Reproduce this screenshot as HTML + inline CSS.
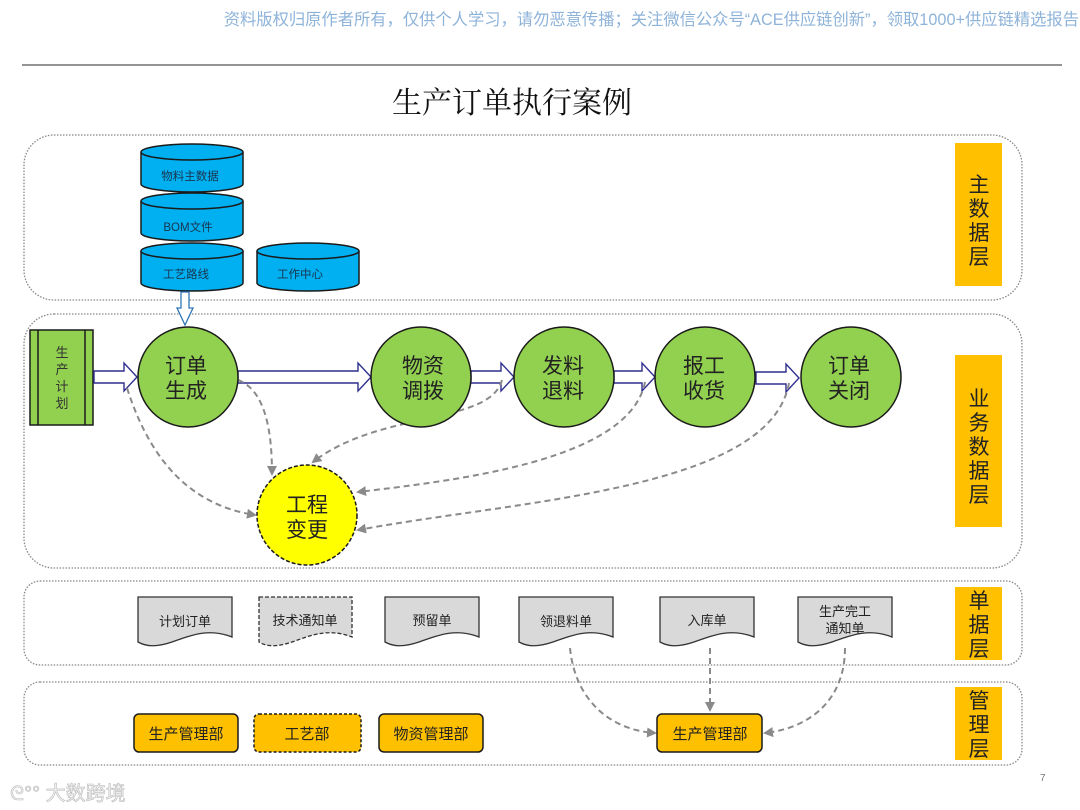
<!DOCTYPE html>
<html><head><meta charset="utf-8"><style>
html,body{margin:0;padding:0;background:#fff;}
svg{display:block;}
text{font-family:"Liberation Sans","Noto Sans CJK SC",sans-serif;}
.s{font-family:"Liberation Serif","Noto Serif CJK SC","Noto Sans CJK SC",serif;}
</style></head><body>
<svg width="1080" height="810" viewBox="0 0 1080 810" xmlns="http://www.w3.org/2000/svg">
<defs>
<marker id="ga" markerWidth="10" markerHeight="10" refX="8" refY="5" orient="auto" markerUnits="userSpaceOnUse">
<path d="M0,0 L10,5 L0,10 z" fill="#8a8a8a"/></marker>
</defs>
<text x="1079" y="25" text-anchor="end" font-size="16.3" fill="#8eb3d9">资料版权归原作者所有，仅供个人学习，请勿恶意传播；关注微信公众号“ACE供应链创新”，领取1000+供应链精选报告</text>
<line x1="22" y1="65" x2="1062" y2="65" stroke="#555" stroke-width="1.2"/>
<text x="512" y="113" text-anchor="middle" font-size="30" fill="#111" class="s">生产订单执行案例</text>

<g fill="none" stroke="#888" stroke-width="1.3" stroke-dasharray="1.5 1.5">
<rect x="24" y="135" width="998" height="165" rx="30"/>
<rect x="24" y="314" width="998" height="254" rx="30"/>
<rect x="24" y="581" width="998" height="84" rx="16"/>
<rect x="24" y="682" width="998" height="83" rx="16"/>
</g>

<g fill="#ffc000">
<rect x="955" y="143" width="47" height="143"/>
<rect x="955" y="355" width="47" height="172"/>
<rect x="955" y="587" width="47" height="73"/>
<rect x="955" y="687" width="47" height="73"/>
</g>
<g font-size="21" fill="#222" text-anchor="middle" class="s">
<text x="979" y="192">主</text><text x="979" y="216">数</text><text x="979" y="240">据</text><text x="979" y="264">层</text>
<text x="979" y="406">业</text><text x="979" y="430">务</text><text x="979" y="454">数</text><text x="979" y="478">据</text><text x="979" y="502">层</text>
<text x="979" y="608">单</text><text x="979" y="632">据</text><text x="979" y="656">层</text>
<text x="979" y="708">管</text><text x="979" y="732">理</text><text x="979" y="756">层</text>
</g>

<g stroke="#1a1a1a" stroke-width="1.5" fill="#00b0f0">
<path d="M141,152 v32 a51,8 0 0 0 102,0 v-32"/><ellipse cx="192" cy="152" rx="51" ry="8"/>
<path d="M141,201 v32 a51,8 0 0 0 102,0 v-32"/><ellipse cx="192" cy="201" rx="51" ry="8"/>
<path d="M141,251 v32 a51,8 0 0 0 102,0 v-32"/><ellipse cx="192" cy="251" rx="51" ry="8"/>
<path d="M257,251 v32 a51,8 0 0 0 102,0 v-32"/><ellipse cx="308" cy="251" rx="51" ry="8"/>
</g>
<g font-size="11.5" fill="#1a3550" text-anchor="middle">
<text x="190" y="180">物料主数据</text>
<text x="188" y="231">BOM文件</text>
<text x="186" y="278">工艺路线</text>
<text x="300" y="278">工作中心</text>
</g>
<path d="M181,292 v16 h-4 l8,17 l8,-17 h-4 v-16 z" fill="#fff" stroke="#2e75b6" stroke-width="1.3"/>

<rect x="30" y="330" width="63" height="95" fill="#92d050" stroke="#1a1a1a" stroke-width="1.5"/>
<line x1="38" y1="330" x2="38" y2="425" stroke="#1a1a1a" stroke-width="1.5"/>
<line x1="85" y1="330" x2="85" y2="425" stroke="#1a1a1a" stroke-width="1.5"/>
<g font-size="13" fill="#333" text-anchor="middle"><text x="62" y="357">生</text><text x="62" y="374">产</text><text x="62" y="391">计</text><text x="62" y="408">划</text></g>

<g fill="#fff" stroke="#2f2f8f" stroke-width="1.4">
<path d="M94,371 h30 v-8 l13,14 l-13,14 v-8 h-30 z"/>
<path d="M238,371 h120 v-8 l13,14 l-13,14 v-8 h-120 z"/>
<path d="M471,371 h30 v-8 l13,14 l-13,14 v-8 h-30 z"/>
<path d="M614,371 h28 v-8 l13,14 l-13,14 v-8 h-28 z"/>
<path d="M756,372 h30 v-8 l13,14 l-13,14 v-8 h-30 z"/>
</g>

<g fill="none" stroke="#8a8a8a" stroke-width="2" stroke-dasharray="6 4" marker-end="url(#ga)">
<path d="M127,388 C150,460 190,505 255,515"/>
<path d="M238,380 C265,390 272,430 272,474"/>
<path d="M502,380 C490,425 380,410 313,462"/>
<path d="M645,382 C630,460 460,480 358,492"/>
<path d="M789,383 C770,490 520,500 358,530"/>
<path d="M570,648 C575,700 610,730 655,733"/>
<path d="M710,648 L710,710"/>
<path d="M845,648 C845,700 810,728 765,733"/>
</g>

<g stroke="#1a1a1a" stroke-width="1.5" fill="#92d050">
<circle cx="188" cy="377" r="50"/><circle cx="421" cy="377" r="50"/>
<circle cx="564" cy="377" r="50"/><circle cx="705" cy="377" r="50"/><circle cx="851" cy="377" r="50"/>
</g>
<circle cx="307" cy="515" r="50" fill="#ffff00" stroke="#1a1a1a" stroke-width="1.5" stroke-dasharray="4 2"/>
<g font-size="21" fill="#222" text-anchor="middle" class="s">
<text x="186" y="373">订单</text><text x="186" y="398">生成</text>
<text x="423" y="373">物资</text><text x="423" y="398">调拨</text>
<text x="563" y="373">发料</text><text x="563" y="398">退料</text>
<text x="704" y="373">报工</text><text x="704" y="398">收货</text>
<text x="849" y="373">订单</text><text x="849" y="398">关闭</text>
<text x="307" y="512">工程</text><text x="307" y="537">变更</text>
</g>

<g fill="#d9d9d9" stroke="#333" stroke-width="1.3">
<path d="M138,597 h94 v40 c-25,-10 -45,0 -60,5 c-15,5 -25,5 -34,0 z"/>
<path d="M259,597 h93 v40 c-25,-10 -45,0 -60,5 c-15,5 -25,5 -33,0 z" stroke-dasharray="4 2"/>
<path d="M385,597 h94 v40 c-25,-10 -45,0 -60,5 c-15,5 -25,5 -34,0 z"/>
<path d="M519,597 h94 v40 c-25,-10 -45,0 -60,5 c-15,5 -25,5 -34,0 z"/>
<path d="M660,597 h94 v40 c-25,-10 -45,0 -60,5 c-15,5 -25,5 -34,0 z"/>
<path d="M798,597 h94 v40 c-25,-10 -45,0 -60,5 c-15,5 -25,5 -34,0 z"/>
</g>
<g font-size="13" fill="#222" text-anchor="middle" class="s">
<text x="185" y="626">计划订单</text>
<text x="305" y="625">技术通知单</text>
<text x="432" y="625">预留单</text>
<text x="566" y="626">领退料单</text>
<text x="707" y="625">入库单</text>
<text x="845" y="616">生产完工</text><text x="845" y="633">通知单</text>
</g>

<g fill="#ffc000" stroke="#1a1a1a" stroke-width="1.5">
<rect x="134" y="714" width="104" height="38" rx="5"/>
<rect x="254" y="714" width="107" height="38" rx="5" stroke-dasharray="3 2"/>
<rect x="379" y="714" width="104" height="38" rx="5"/>
<rect x="657" y="714" width="105" height="38" rx="5"/>
</g>
<g font-size="15" fill="#222" text-anchor="middle" class="s">
<text x="186" y="739">生产管理部</text>
<text x="307" y="739">工艺部</text>
<text x="431" y="739">物资管理部</text>
<text x="710" y="739">生产管理部</text>
</g>
<text x="1040" y="781" font-size="10" fill="#777">7</text>
<text x="10" y="800" font-size="20" fill="#f2f2f2" stroke="#bbb" stroke-width="0.6">ᘓ°° 大数跨境</text>
</svg>
</body></html>
